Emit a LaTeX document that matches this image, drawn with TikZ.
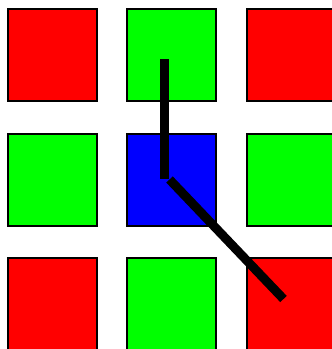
\documentclass[tikz,border=0pt]{standalone}
\definecolor{cred}{RGB}{255,0,0}
\definecolor{cgreen}{RGB}{0,255,0}
\definecolor{cblue}{RGB}{0,0,255}
\begin{document}
\begin{tikzpicture}[x=1pt,y=-1pt,
  cell/.style={draw=black,line width=2pt,minimum width=89pt,minimum height=92.2pt,inner sep=0pt,outer sep=0pt},
  stroke/.style={line width=9pt,line cap=butt,black}]
\useasboundingbox (0,0) rectangle (332,349);
\node[cell,fill=cred]   (a1) at (52.25,55.1) {};
\node[cell,fill=cgreen] (a2) at (171.75,55.1) {};
\node[cell,fill=cred]   (a3) at (291.25,55.1) {};
\node[cell,fill=cgreen] (b1) at (52.25,179.6) {};
\node[cell,fill=cblue]  (b2) at (171.75,179.6) {};
\node[cell,fill=cgreen] (b3) at (291.25,179.6) {};
\node[cell,fill=cred]   (c1) at (52.25,304.1) {};
\node[cell,fill=cgreen] (c2) at (171.75,304.1) {};
\node[cell,fill=cred]   (c3) at (291.25,304.1) {};
\coordinate (p1) at (164.5,59.3);
\coordinate (p2) at (164.5,179);
\coordinate (q1) at (169.5,179.5);
\coordinate (q2) at (283.5,299);
\draw[stroke] (p1) -- (p2);
\draw[stroke] (q1) -- (q2);
\end{tikzpicture}
\end{document}
